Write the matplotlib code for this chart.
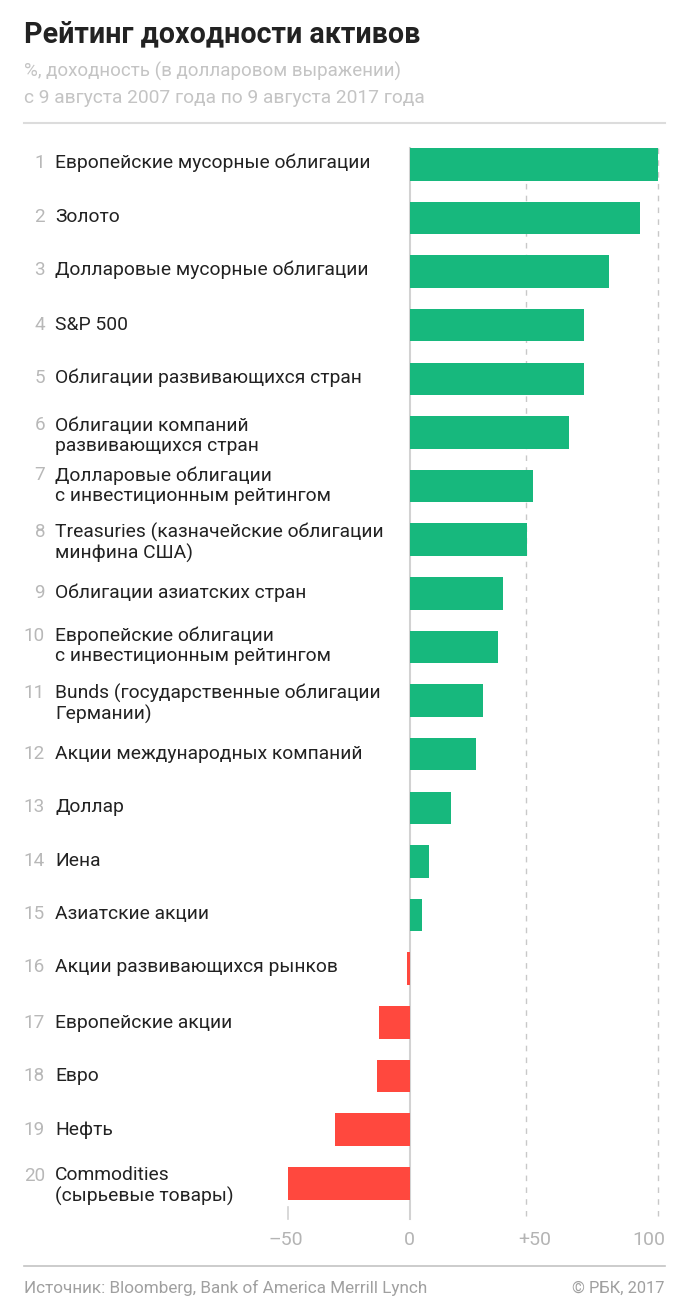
import numpy as np
import matplotlib
matplotlib.use("Agg")
import matplotlib.pyplot as plt

plt.rcParams['font.family'] = ['Roboto', 'DejaVu Sans']

labels = ["Европейские мусорные облигации", "Золото", "Долларовые мусорные облигации", "S&P 500",
          "Облигации развивающихся стран", "Облигации компаний\nразвивающихся стран",
          "Долларовые облигации\nс инвестиционным рейтингом", "Treasuries (казначейские облигации\nминфина США)",
          "Облигации азиатских стран", "Европейские облигации\nс инвестиционным рейтингом",
          "Bunds (государственные облигации\nГермании)", "Акции международных компаний", "Доллар", "Иена",
          "Азиатские акции", "Акции развивающихся рынков", "Европейские акции", "Евро", "Нефть",
          "Commodities\n(сырьевые товары)"]
values = [100, 93.2, 81.5, 72, 72, 66.4, 53, 50.5, 40.3, 38, 31.7, 28.7, 17.9, 8.4, 5.4, -1, -12.5, -13.3, -30.5, -49.8]
tick_values = [-50, 0, 50, 100]
tick_labels = ["–50", "0", "+50", "100"]

W, H = 688, 1309
GREEN, RED = "#17b87d", "#ff483e"

fig = plt.figure(figsize=(W/100, H/100), dpi=100, facecolor="white")
# the reference axis is not linear: each side has its own pixels per unit
def fwd(v):
    v = np.asarray(v, float)
    return np.where(v < 0, v*122/50, np.where(v < 50, v*116/50, 116 + (v-50)*132.5/50))
def inv(p):
    p = np.asarray(p, float)
    return np.where(p < 0, p*50/122, np.where(p < 116, p*50/116, 50 + (p-116)*50/132.5))

X0, X1, Y0, Y1 = 270, 670, 140, 1225
ax = fig.add_axes([X0/W, 1-Y1/H, (X1-X0)/W, (Y1-Y0)/H])
ax.set_xscale('function', functions=(fwd, inv))
ax.set_xlim(float(inv(X0-409.5)), float(inv(X1-409.5)))
step = (1167+16.25-164.25)/19
ax.set_ylim((Y1-164.25)/step, (Y0-164.25)/step)
ax.axis("off")
rows = np.arange(len(values))
ax.barh(rows, values, height=32.5/step, color=[GREEN if v >= 0 else RED for v in values], zorder=3, linewidth=0)

def ypx(p): return (p-164.25)/step
ax.plot([0, 0], [ypx(148), ypx(1219)], color="#d2d2d2", lw=1.5, zorder=2)
ax.plot([-50, -50], [ypx(1207), ypx(1219)], color="#d2d2d2", lw=1.2, zorder=2)
for v in tick_values[2:]:
    ax.plot([v, v], [ypx(148), ypx(1216)], color="#c8c8c8", lw=1, dashes=(4, 4.5), zorder=2)

def T(x, y, s, **k):
    k.setdefault("va", "center")
    return fig.text(x/W, 1-y/H, s, **k)

T(24, 34, "Рейтинг доходности активов", fontsize=20.6, fontweight="bold", color="#222222")
T(24, 71, "%, доходность (в долларовом выражении)", fontsize=13.5, color="#c4c4c4")
T(24, 98, "с 9 августа 2007 года по 9 августа 2017 года", fontsize=13.8, color="#c4c4c4")
fig.add_artist(plt.Line2D([24/W, 665/W], [1-123/H]*2, color="#dcdcdc", lw=1.5))
fig.add_artist(plt.Line2D([24/W, 665/W], [1-1266/H]*2, color="#c4c4c4", lw=1.2))

label_y = [163, 217, 270, 325, 378, 436, 486, 543, 593, 646, 704, 754, 807, 861, 914, 967, 1023, 1076, 1130, 1186]
rank_y = [163, 217, 270, 325, 378, 425, 475, 532, 593, 636, 693, 754, 807, 861, 914, 967, 1023, 1076, 1130, 1176]
for i, (s, ly, ry) in enumerate(zip(labels, label_y, rank_y)):
    T(55, ly, s, fontsize=13.85, color="#222222", linespacing=1.14)
    T(45, ry, str(i+1), fontsize=13.6, color="#b8b8b8", ha="right")

for v, s, x, ha in zip(tick_values, tick_labels, [268, 409.5, 518, 665], ["left", "center", "left", "right"]):
    T(x, 1240, s, fontsize=14, color="#b4b4b4", ha=ha)

T(24, 1288, "Источник: Bloomberg, Bank of America Merrill Lynch", fontsize=12.3, color="#a0a0a0")
T(665, 1288, "© РБК, 2017", fontsize=11.9, color="#a0a0a0", ha="right")

fig.savefig("out.png", dpi=100, facecolor="white")
